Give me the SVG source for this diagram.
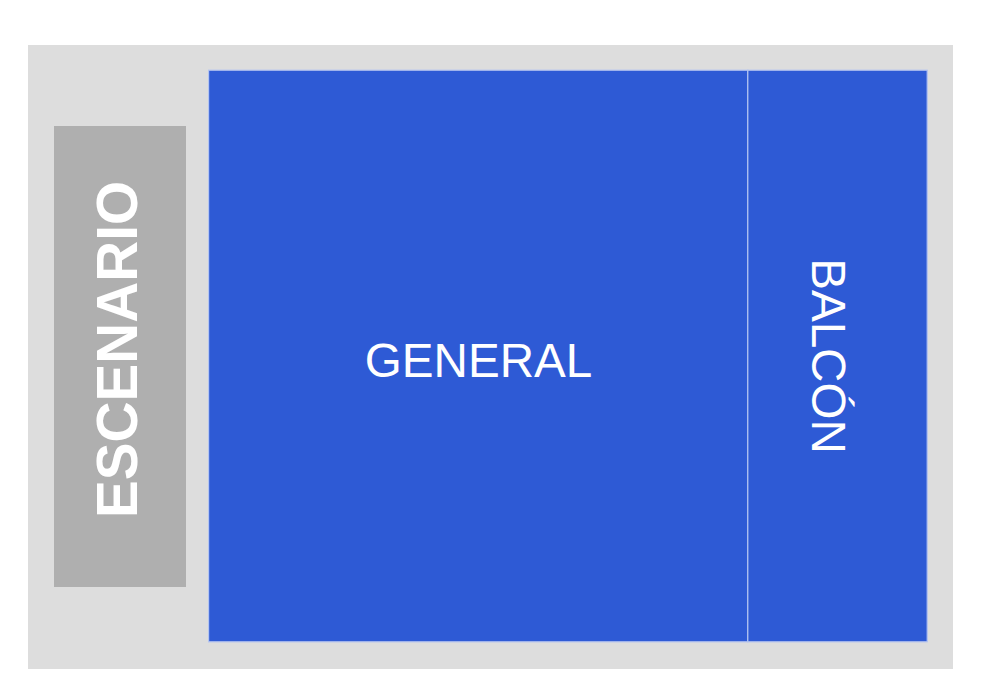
<svg xmlns="http://www.w3.org/2000/svg" width="997" height="691" viewBox="0 0 997 691">
<style>
.lbl{font-family:"Liberation Sans",Arial,sans-serif;fill:#ffffff;text-anchor:middle}
.zone{fill:#2e5ad5;stroke:#b4c4f0;stroke-width:1.2}
</style>
<rect width="997" height="691" fill="#ffffff"/>
<g id="venue">
<rect x="28" y="45" width="925" height="624" fill="#dddddd"/>
</g>
<g id="escenario">
<rect x="54" y="126" width="132" height="461" fill="#afafaf"/>
<text class="lbl" font-weight="bold" font-size="56.7" transform="translate(136.5,349.5) rotate(-90)">ESCENARIO</text>
</g>
<g id="general">
<rect class="zone" x="208.6" y="70.2" width="539.2" height="571.6"/>
<text class="lbl" font-size="47.6" x="478.5" y="377">GENERAL</text>
</g>
<g id="balcon">
<rect class="zone" x="747.8" y="70.2" width="179.4" height="571.6"/>
<text class="lbl" font-size="47.6" transform="translate(811.5,356) rotate(90)">BALCÓN</text>
</g>
<g id="connectors"/>
</svg>
